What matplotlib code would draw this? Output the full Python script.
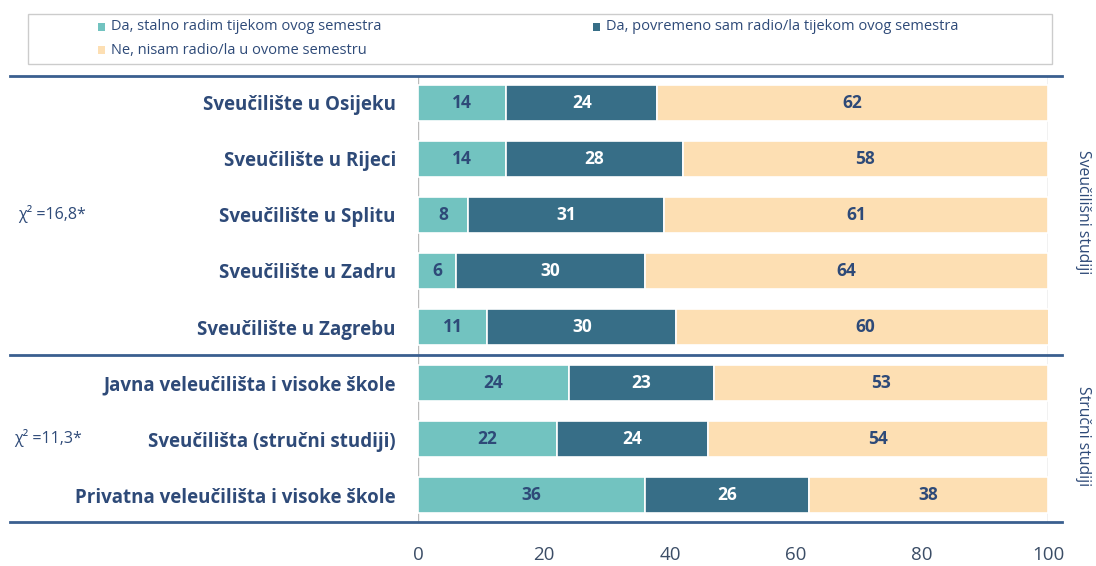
import matplotlib
matplotlib.use("Agg")
import matplotlib.pyplot as plt
from matplotlib.patches import Rectangle

categories = ["Sveučilište u Osijeku", "Sveučilište u Rijeci", "Sveučilište u Splitu",
              "Sveučilište u Zadru", "Sveučilište u Zagrebu",
              "Javna veleučilišta i visoke škole", "Sveučilišta (stručni studiji)",
              "Privatna veleučilišta i visoke škole"]
stalno = [14, 14, 8, 6, 11, 24, 22, 36]
povremeno = [24, 28, 31, 30, 30, 23, 24, 26]
ne = [62, 58, 61, 64, 60, 53, 54, 38]
series_names = ["Da, stalno radim tijekom ovog semestra",
                "Da, povremeno sam radio/la tijekom ovog semestra",
                "Ne, nisam radio/la u ovome semestru"]
xticks = [0, 20, 40, 60, 80, 100]
group_labels = ["Sveučilišni studiji", "Stručni studiji"]
chi_labels = ["χ² =16,8*", "χ² =11,3*"]

C_TEAL = "#72C3C0"
C_DARK = "#376E87"
C_PEACH = "#FDDFB3"
C_TEXT = "#2E4A78"
C_LINE = "#3A5F8F"

plt.rcParams['font.family'] = ['Open Sans', 'DejaVu Sans']

W, H = 1096, 566
fig = plt.figure(figsize=(W / 100, H / 100), dpi=100)
x0, x1 = 418, 1048
y_top, y_bot = 76, 522
ax = fig.add_axes([x0 / W, 1 - y_bot / H, (x1 - x0) / W, (y_bot - y_top) / H])

ypos = list(range(len(categories)))
bh = 0.64
lefts = [0] * len(categories)
for vals, col, tcol, name in [(stalno, C_TEAL, C_TEXT, series_names[0]),
                              (povremeno, C_DARK, "white", series_names[1]),
                              (ne, C_PEACH, C_TEXT, series_names[2])]:
    ax.barh(ypos, vals, left=lefts, height=bh, color=col, edgecolor="white",
            linewidth=1.2, label=name, zorder=3)
    for y, v, l in zip(ypos, vals, lefts):
        ax.text(l + v / 2, y, str(v), ha="center", va="center", color=tcol,
                fontsize=12.5, fontweight="bold", zorder=4)
    lefts = [a + b for a, b in zip(lefts, vals)]

ax.set_xlim(0, 100)
ax.set_ylim(len(categories) - 1 + 0.48, -0.48)
ax.set_yticks(ypos)
ax.set_yticklabels(categories, fontsize=13.5, fontweight="bold", color=C_TEXT)
ax.set_xticks(xticks)
ax.set_xticklabels([str(t) for t in xticks], fontsize=13.5, color="#3B4D66")
ax.tick_params(axis="y", length=0, pad=16)
ax.tick_params(axis="x", length=0, pad=17)
for s in ax.spines.values():
    s.set_visible(False)
for xv in (0, 100):
    ax.axvline(xv, color="#BBBBBB", linewidth=1, zorder=1)

# horizontal blue separator lines
xa = (10 - x0) / (x1 - x0)
xb = (1062 - x0) / (x1 - x0)
for yv in (-0.48, 4.5, len(categories) - 1 + 0.48):
    ax.plot([xa, xb], [yv, yv], transform=ax.get_yaxis_transform(), color=C_LINE,
            linewidth=2, clip_on=False, zorder=5)

# chi labels on left
fig.text(18 / W, 1 - 214 / H, chi_labels[0], fontsize=11.5, color=C_TEXT, va="center", ha="left")
fig.text(14 / W, 1 - 438 / H, chi_labels[1], fontsize=11.5, color=C_TEXT, va="center", ha="left")

# right group labels
fig.text(1083 / W, 1 - 212 / H, group_labels[0], fontsize=11.3, color=C_TEXT, va="center",
         ha="center", rotation=-90)
fig.text(1083 / W, 1 - 436 / H, group_labels[1], fontsize=11.3, color=C_TEXT, va="center",
         ha="center", rotation=-90)

# legend box
fig.patches.append(Rectangle((28 / W, 1 - 64 / H), (1052 - 28) / W, 50 / H,
                             transform=fig.transFigure, facecolor="white",
                             edgecolor="#CCCCCC", linewidth=1))
leg_items = [(98, 27, C_TEAL, series_names[0]), (593, 27, C_DARK, series_names[1]),
             (98, 50, C_PEACH, series_names[2])]
for lx, ly, col, name in leg_items:
    fig.patches.append(Rectangle((lx / W, 1 - (ly + 4) / H), 7 / W, 8 / H,
                                 transform=fig.transFigure, facecolor=col, edgecolor="none"))
    fig.text((lx + 13) / W, 1 - ly / H, name, fontsize=10.5, color=C_TEXT, va="center", ha="left")

fig.savefig("out.png", dpi=100)
